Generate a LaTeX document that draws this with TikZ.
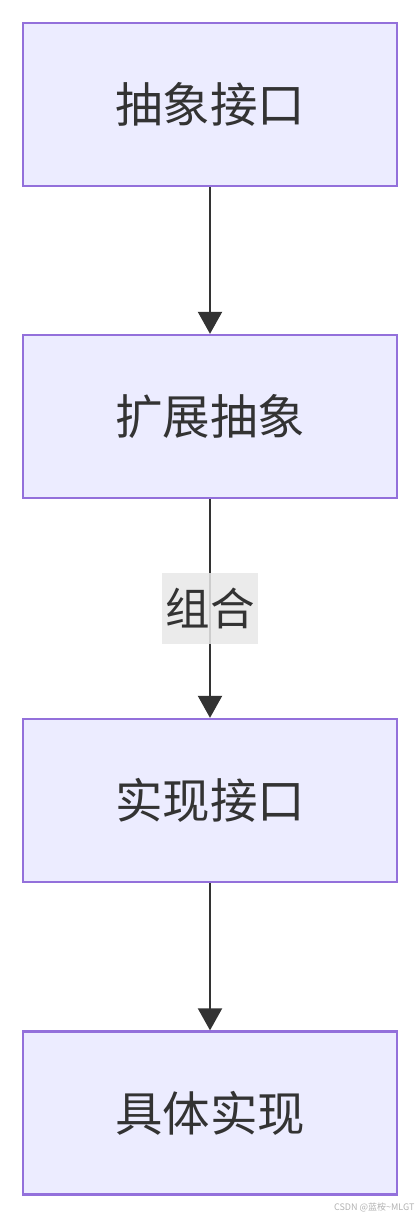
\documentclass[tikz,border=0pt]{standalone}
\usepackage{fontspec}
\setmainfont{Noto Sans CJK SC}
\usetikzlibrary{arrows.meta}
\definecolor{boxfill}{HTML}{ECECFF}
\definecolor{boxline}{HTML}{9370DB}
\definecolor{inkgray}{HTML}{333333}
\definecolor{tagfill}{HTML}{E8E8E8}
\tikzset{
  classbox/.style={rectangle, draw=boxline, line width=2.3pt, fill=boxfill,
    minimum width=374pt, minimum height=163pt, text=inkgray,
    font=\fontsize{47.5}{57}\selectfont},
  flow/.style={draw=inkgray, line width=2pt, -{Triangle[width=24pt,length=22pt]}},
  tag/.style={fill=tagfill, fill opacity=0.85, text opacity=1, text=inkgray,
    minimum width=96pt, minimum height=71pt, inner sep=0pt,
    font=\fontsize{44.5}{53}\selectfont}
}
\begin{document}
\begin{tikzpicture}[x=1pt, y=-1pt]
    \useasboundingbox (0, 0) rectangle (420, 1218);
    % 节点
    \node[classbox] (abstract) at (210, 104.5) {抽象接口};
    \node[classbox] (refined) at (210, 416.5) {扩展抽象};
    \node[classbox] (implementor) at (210, 800.5) {实现接口};
    \node[classbox] (concrete) at (210, 1113) {具体实现};

    % 边
    \draw[flow] (abstract) -- (refined);
    \draw[flow] (refined) -- node[tag] {组合} (implementor);
    \draw[flow] (implementor) -- (concrete);

    % 水印
    \node[text=black!30, font=\fontsize{9}{10}\selectfont, anchor=east] (mark) at (418, 1207) {CSDN @蓝桉\textasciitilde MLGT};
  \end{tikzpicture}
\end{document}
